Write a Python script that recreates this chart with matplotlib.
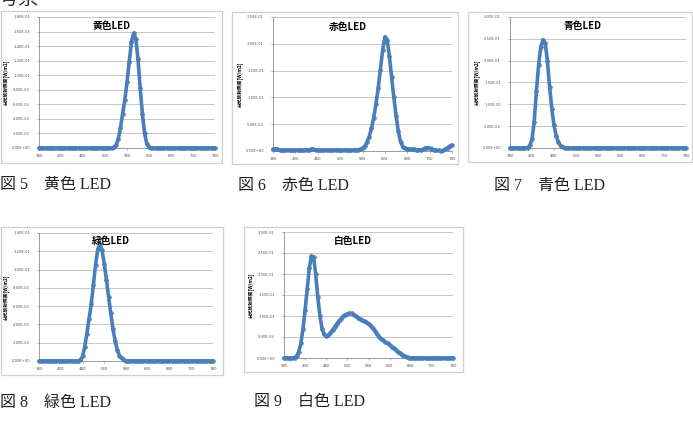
import numpy as np
import matplotlib
matplotlib.use('Agg')
import matplotlib.pyplot as plt
from matplotlib.patches import Rectangle
from matplotlib.ticker import FuncFormatter, MultipleLocator

plt.rcParams['font.family'] = ['DejaVu Sans', 'Noto Sans CJK JP']

W, H = 693, 425

# wavelength grid [nm], 5 nm steps
wl = [380, 385, 390, 395, 400, 405, 410, 415, 420, 425,
      430, 435, 440, 445, 450, 455, 460, 465, 470, 475,
      480, 485, 490, 495, 500, 505, 510, 515, 520, 525,
      530, 535, 540, 545, 550, 555, 560, 565, 570, 575,
      580, 585, 590, 595, 600, 605, 610, 615, 620, 625,
      630, 635, 640, 645, 650, 655, 660, 665, 670, 675,
      680, 685, 690, 695, 700, 705, 710, 715, 720, 725,
      730, 735, 740, 745, 750, 755, 760, 765, 770, 775,
      780]

yellow = [0, 0, 0, 0, 0, 0, 0, 0, 0, 0,
          0, 0, 0, 0, 0, 0, 0, 0, 0, 0,
          0, 0, 0, 0, 0, 0, 0, 0, 0, 0,
          0, 0, 0, 0, .001, .004, .012, .027, .047, .066,
          .090, .118, .145, .158, .150, .122, .082, .047, .020, .006,
          .001, 0, 0, 0, 0, 0, 0, 0, 0, 0,
          0, 0, 0, 0, 0, 0, 0, 0, 0, 0,
          0, 0, 0, 0, 0, 0, 0, 0, 0, 0,
          0]

red = [.003, .004, .003, .002, .001, .001, .002, .002, .001, .001,
       .001, .002, .002, .001, .001, .002, .002, .003, .003, .002,
       .002, .001, .001, .002, .002, .001, .001, .001, .002, .002,
       .001, .001, .002, .002, .001, .001, .002, .002, .002, .003,
       .005, .009, .016, .027, .042, .062, .087, .117, .152, .188,
       .213, .207, .178, .138, .100, .066, .037, .017, .008, .005,
       .004, .004, .003, .003, .002, .002, .002, .003, .005, .006,
       .005, .003, .002, .001, .001, 0, .001, .003, .006, .009,
       .011]

blue = [0, 0, 0, 0, 0, 0, 0, 0, .001, .006,
        .020, .060, .130, .190, .232, .248, .240, .200, .140, .090,
        .052, .028, .013, .005, .002, 0, 0, 0, 0, 0,
        0, 0, 0, 0, 0, 0, 0, 0, 0, 0,
        0, 0, 0, 0, 0, 0, 0, 0, 0, 0,
        0, 0, 0, 0, 0, 0, 0, 0, 0, 0,
        0, 0, 0, 0, 0, 0, 0, 0, 0, 0,
        0, 0, 0, 0, 0, 0, 0, 0, 0, 0,
        0]

green = [0, 0, 0, 0, 0, 0, 0, 0, 0, 0,
         0, 0, 0, 0, 0, 0, 0, 0, 0, .001,
         .005, .015, .030, .046, .062, .083, .105, .122, .128, .121,
         .106, .089, .070, .052, .035, .022, .012, .006, .003, .001,
         0, 0, 0, 0, 0, 0, 0, 0, 0, 0,
         0, 0, 0, 0, 0, 0, 0, 0, 0, 0,
         0, 0, 0, 0, 0, 0, 0, 0, 0, 0,
         0, 0, 0, 0, 0, 0, 0, 0, 0, 0,
         0]

white = [0, 0, 0, 0, 0, .001, .005, .015, .035, .070,
         .115, .165, .215, .243, .240, .200, .145, .100, .070, .056,
         .052, .054, .060, .067, .074, .081, .088, .094, .099, .103,
         .105, .106, .106, .103, .099, .096, .093, .090, .088, .085,
         .082, .077, .071, .064, .057, .051, .046, .042, .038, .035,
         .031, .027, .023, .019, .015, .011, .008, .005, .003, .001,
         0, 0, 0, 0, 0, 0, 0, 0, 0, 0,
         0, 0, 0, 0, 0, 0, 0, 0, 0, 0,
         0]

x_ticks = [380, 430, 480, 530, 580, 630, 680, 730, 780]
ylabel = '分光放射照度[W/m2]'

# (series, title, caption, ymax, ystep, frame box, plot box, title pos, caption pos) in pixels
panels = [
    (yellow, '黄色LED', '図 5\u3000黄色 LED', 0.18, 0.02,
     (1, 11, 222, 163), (39, 17, 215, 148), (112, 26), (0, 185)),
    (red, '赤色LED', '図 6\u3000赤色 LED', 0.25, 0.05,
     (232, 12, 458, 164), (273, 17, 452, 151), (348, 27), (238, 186)),
    (blue, '青色LED', '図 7\u3000青色 LED', 0.30, 0.05,
     (468, 12, 692, 162), (510, 17, 686, 148), (583, 26), (494, 186)),
    (green, '緑色LED', '図 8\u3000緑色 LED', 0.14, 0.02,
     (1, 227, 223, 375), (39, 233, 213, 361), (111, 241), (0, 403)),
    (white, '白色LED', '図 9\u3000白色 LED', 0.30, 0.05,
     (244, 227, 463, 372), (284, 232, 453, 358), (353, 241), (254, 402)),
]

fig = plt.figure(figsize=(W / 100, H / 100), dpi=100)


def fx(px):
    return px / W


def fy(py):
    return 1 - py / H


for data, title, caption, ymax, ystep, frame, box, tpos, cpos in panels:
    # chart frame
    fig.patches.append(Rectangle((fx(frame[0]), fy(frame[3])),
                                 fx(frame[2] - frame[0]), (frame[3] - frame[1]) / H,
                                 transform=fig.transFigure, fill=False,
                                 edgecolor='#d0d0d0', lw=0.9))
    ax = fig.add_axes([fx(box[0]), fy(box[3]), fx(box[2] - box[0]), (box[3] - box[1]) / H])
    ax.plot(wl, data, color='#4A7EBB', lw=2.6, marker='P', ms=3.2, mew=0.3,
            solid_capstyle='round', clip_on=False, zorder=3)
    ax.set_xlim(380, 780)
    ax.set_ylim(0, ymax)
    ax.set_xticks(x_ticks)
    ax.yaxis.set_major_locator(MultipleLocator(ystep))
    ax.yaxis.set_major_formatter(FuncFormatter(lambda v, p: f'{v:.2E}'))
    ax.grid(axis='y', color='#bdbdbd', lw=0.6)
    ax.set_axisbelow(True)
    for s in ['top', 'right']:
        ax.spines[s].set_visible(False)
    for s in ['left', 'bottom']:
        ax.spines[s].set_color('#8c8c8c')
        ax.spines[s].set_linewidth(0.6)
    ax.tick_params(axis='y', labelsize=2.7, colors='#8c8c8c', labelcolor='#555555',
                   length=1.5, width=0.5, pad=5)
    ax.tick_params(axis='x', labelsize=2.8, colors='#8c8c8c', labelcolor='#555555',
                   length=1.2, width=0.5, pad=3)
    ax.set_ylabel(ylabel, fontsize=3.4, fontweight='bold', labelpad=2,
                  family=['Noto Sans CJK JP', 'DejaVu Sans'])
    fig.text(fx(tpos[0]), fy(tpos[1]), title, fontsize=7, fontweight='bold',
             ha='center', va='center', family=['Noto Sans CJK JP', 'DejaVu Sans'])
    fig.text(fx(cpos[0]), fy(cpos[1]), caption, fontsize=11.5, ha='left', va='center',
             family=['Liberation Serif', 'Noto Sans CJK JP'], color='#222222')

# heading cut off at top of the page
fig.text(fx(-2), fy(9), '考察', fontsize=15, ha='left', va='bottom',
         family=['Noto Sans CJK JP'], color='#333333')

fig.savefig('out.png', dpi=100)
